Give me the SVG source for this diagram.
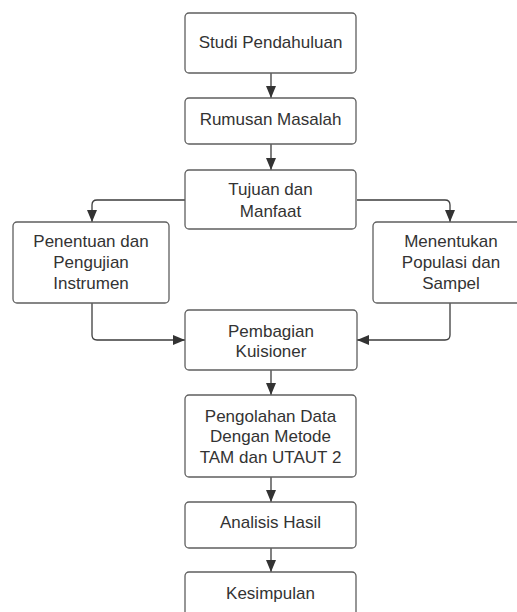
<svg xmlns="http://www.w3.org/2000/svg" width="517" height="612" viewBox="0 0 517 612">
<defs>
<style>
.box{fill:#ffffff;stroke:#5f5f5f;stroke-width:1.3}
.t{font-family:"Liberation Sans",Arial,sans-serif;font-size:17px;fill:#333333;text-anchor:middle}
.c{fill:none;stroke:#3d3d3d;stroke-width:1.3}
</style>
<marker id="ah" viewBox="0 0 12 10" refX="12" refY="5" markerWidth="12" markerHeight="10" markerUnits="userSpaceOnUse" orient="auto">
<path d="M0,0 L12,5 L0,10 Z" fill="#333333"/>
</marker>
</defs>
<rect width="517" height="612" fill="#ffffff"/>
<g id="connectors">
<path class="c" d="M271,73 V98" marker-end="url(#ah)"/>
<path class="c" d="M271,144 V170" marker-end="url(#ah)"/>
<path class="c" d="M185,200 H97 Q92,200 92,205 V222" marker-end="url(#ah)"/>
<path class="c" d="M357,200 H445 Q450,200 450,205 V222" marker-end="url(#ah)"/>
<path class="c" d="M92,303 V335 Q92,340 97,340 H185" marker-end="url(#ah)"/>
<path class="c" d="M450,303 V335 Q450,340 445,340 H357" marker-end="url(#ah)"/>
<path class="c" d="M271,370 V395" marker-end="url(#ah)"/>
<path class="c" d="M271,477 V502" marker-end="url(#ah)"/>
<path class="c" d="M271,548 V572" marker-end="url(#ah)"/>
</g>
<g id="studi">
<rect class="box" x="185" y="13" width="171" height="60" rx="4"/>
<text class="t" x="270.5" y="48">Studi Pendahuluan</text>
</g>
<g id="rumusan">
<rect class="box" x="185" y="98" width="171" height="46" rx="4"/>
<text class="t" x="270.5" y="125">Rumusan Masalah</text>
</g>
<g id="tujuan">
<rect class="box" x="185" y="170" width="171" height="59" rx="4"/>
<text class="t" x="270.5" y="195">Tujuan dan</text>
<text class="t" x="270.5" y="217">Manfaat</text>
</g>
<g id="penentuan">
<rect class="box" x="13" y="222" width="156" height="81" rx="4"/>
<text class="t" x="91" y="247">Penentuan dan</text>
<text class="t" x="91" y="268">Pengujian</text>
<text class="t" x="91" y="289">Instrumen</text>
</g>
<g id="menentukan">
<rect class="box" x="373" y="222" width="156" height="81" rx="4"/>
<text class="t" x="451" y="247">Menentukan</text>
<text class="t" x="451" y="268">Populasi dan</text>
<text class="t" x="451" y="289">Sampel</text>
</g>
<g id="pembagian">
<rect class="box" x="185" y="310" width="172" height="60" rx="4"/>
<text class="t" x="271" y="337">Pembagian</text>
<text class="t" x="271" y="357">Kuisioner</text>
</g>
<g id="pengolahan">
<rect class="box" x="185" y="395" width="171" height="82" rx="4"/>
<text class="t" x="270.5" y="422">Pengolahan Data</text>
<text class="t" x="270.5" y="442">Dengan Metode</text>
<text class="t" x="270.5" y="463">TAM dan UTAUT 2</text>
</g>
<g id="analisis">
<rect class="box" x="185" y="502" width="171" height="46" rx="4"/>
<text class="t" x="270.5" y="528">Analisis Hasil</text>
</g>
<g id="kesimpulan">
<rect class="box" x="185" y="572" width="171" height="50" rx="4"/>
<text class="t" x="270.5" y="599">Kesimpulan</text>
</g>
</svg>
